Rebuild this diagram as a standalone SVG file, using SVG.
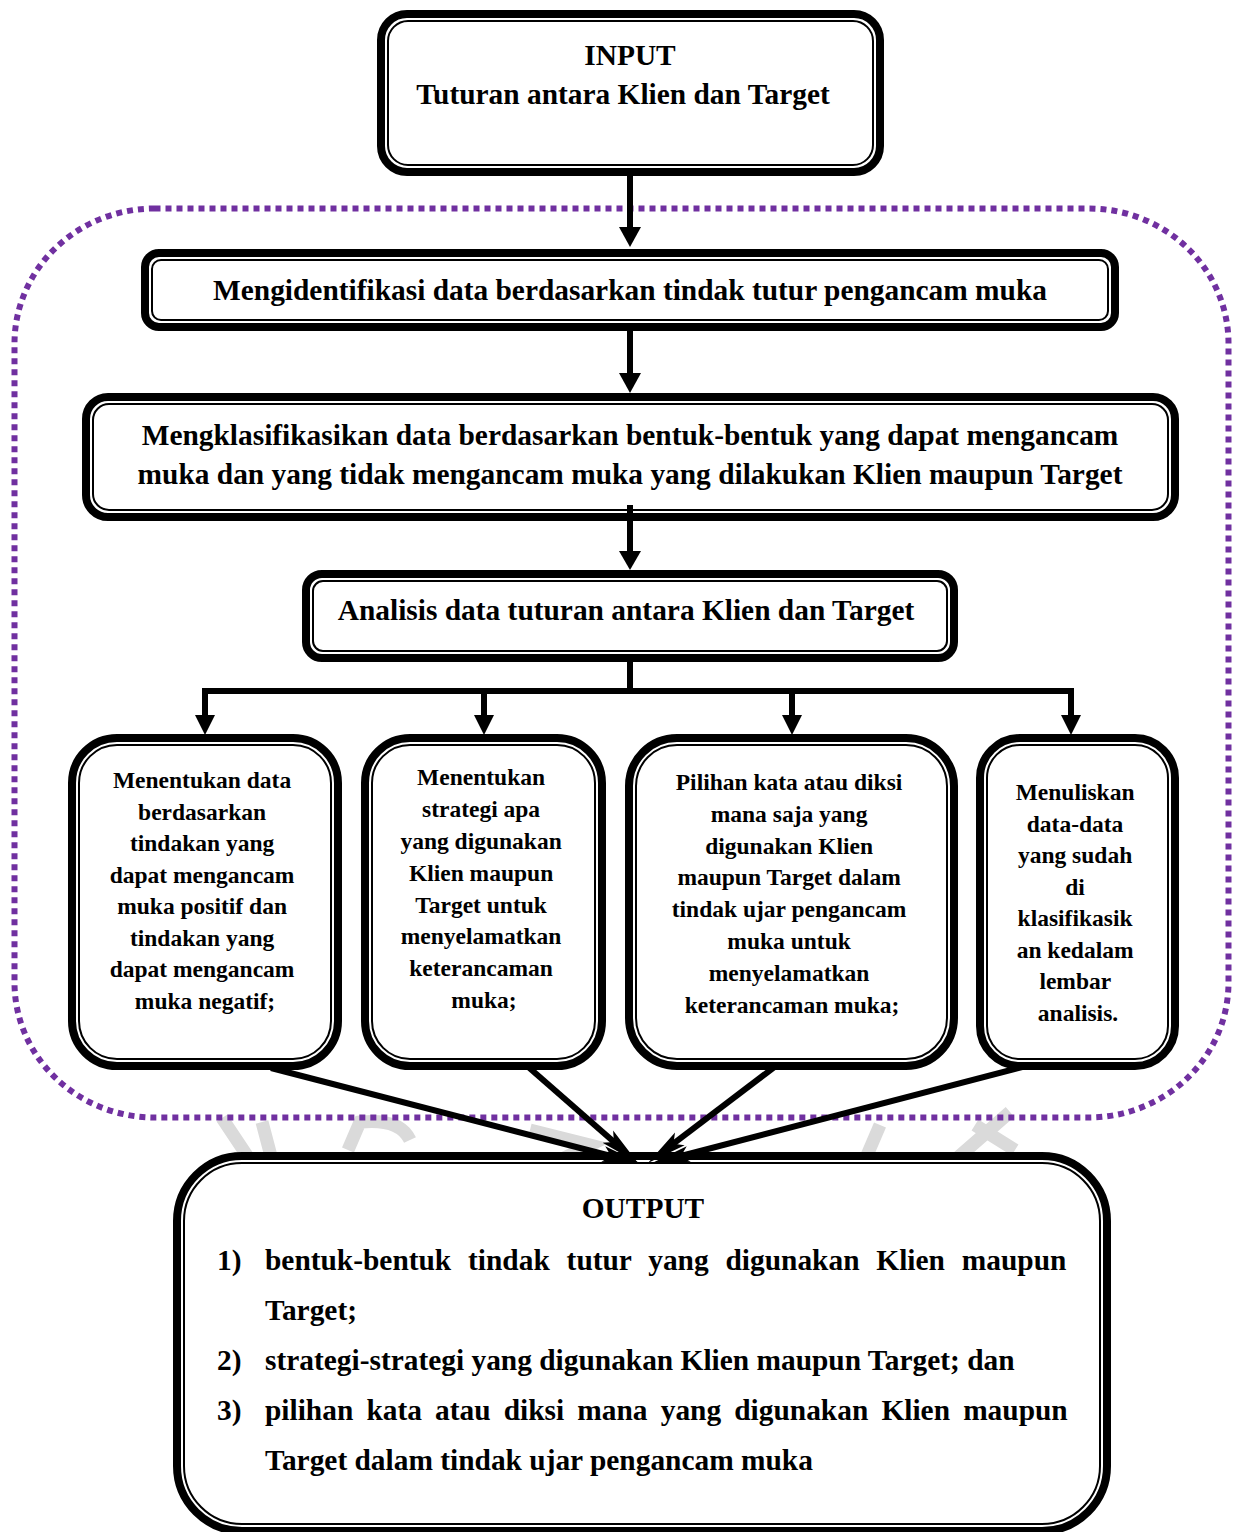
<svg xmlns="http://www.w3.org/2000/svg" width="1234" height="1532" viewBox="0 0 1234 1532">
<defs>
<style>
.outer{fill:#fff;stroke:#000;stroke-width:8}
.inner{fill:none;stroke:#000;stroke-width:2}
.t{font-family:"Liberation Serif","Times New Roman",serif;font-weight:bold;fill:#000}
.big{font-size:29.4px}
.sm{font-size:23.5px}
.ln{stroke:#000;stroke-width:6;fill:none}
.hd{fill:#000}
.wm{stroke:#dadada;stroke-width:13;fill:none;stroke-linecap:butt}
</style>
<marker id="ah" markerUnits="userSpaceOnUse" markerWidth="40" markerHeight="20" viewBox="0 0 40 20" refX="20" refY="10" orient="auto">
<path d="M40,10 L0,2 L8,10 L0,18 Z" fill="#000"/>
</marker>
</defs>
<rect width="1234" height="1532" fill="#fff"/>
<g id="watermark">
<path class="wm" d="M222,1118 L250,1160 M262,1122 L272,1160"/>
<path class="wm" d="M348,1150 L360,1122 Q400,1118 410,1140"/>
<path class="wm" d="M530,1130 L590,1145 L560,1160"/>
<path class="wm" d="M880,1125 L865,1160"/>
<path class="wm" d="M1010,1112 L955,1160 M975,1125 L1015,1150"/>
</g>
<g id="group-border">
<rect x="14.5" y="208.5" width="1214" height="909" rx="140" ry="135" fill="none" stroke="#7030A0" stroke-width="6" stroke-dasharray="6 5"/>
</g>
<g id="node-input">
<rect class="outer" x="381" y="14" width="499" height="158" rx="26"/>
<rect class="inner" x="388" y="21" width="485" height="144" rx="20"/>
<text class="t big" x="630" y="65" text-anchor="middle">INPUT</text>
<text class="t big" x="623" y="104" text-anchor="middle">Tuturan antara Klien dan Target</text>
</g>
<g id="node-identify">
<rect class="outer" x="145" y="253" width="970" height="74" rx="14"/>
<rect class="inner" x="152" y="260" width="956" height="60" rx="9"/>
<text class="t big" x="630" y="300" text-anchor="middle">Mengidentifikasi data berdasarkan tindak tutur pengancam muka</text>
</g>
<g id="node-classify">
<rect class="outer" x="86" y="397" width="1089" height="120" rx="22"/>
<rect class="inner" x="93" y="404" width="1075" height="106" rx="16"/>
<text class="t big" x="630" y="445" text-anchor="middle">Mengklasifikasikan data berdasarkan bentuk-bentuk yang dapat mengancam</text>
<text class="t big" x="630" y="484" text-anchor="middle">muka dan yang tidak mengancam muka yang dilakukan Klien maupun Target</text>
</g>
<g id="node-analyze">
<rect class="outer" x="306" y="574" width="648" height="84" rx="16"/>
<rect class="inner" x="313" y="581" width="634" height="70" rx="10"/>
<text class="t big" x="626" y="620" text-anchor="middle">Analisis data tuturan antara Klien dan Target</text>
</g>
<g id="node-a">
<rect class="outer" x="72" y="738" width="266" height="328" rx="45"/>
<rect class="inner" x="79" y="745" width="252" height="314" rx="38"/>
<text class="t sm" text-anchor="middle">
<tspan x="205" y="788">Menentukan data</tspan>
<tspan x="205" y="819.5">berdasarkan</tspan>
<tspan x="205" y="851">tindakan yang</tspan>
<tspan x="205" y="882.5">dapat mengancam</tspan>
<tspan x="205" y="914">muka positif dan</tspan>
<tspan x="205" y="945.5">tindakan yang</tspan>
<tspan x="205" y="977">dapat mengancam</tspan>
<tspan x="205" y="1008.5">muka negatif;</tspan>
</text>
</g>
<g id="node-b">
<rect class="outer" x="365" y="738" width="237" height="328" rx="45"/>
<rect class="inner" x="372" y="745" width="223" height="314" rx="38"/>
<text class="t sm" text-anchor="middle">
<tspan x="484" y="785">Menentukan</tspan>
<tspan x="484" y="817">strategi apa</tspan>
<tspan x="484" y="849">yang digunakan</tspan>
<tspan x="484" y="881">Klien maupun</tspan>
<tspan x="484" y="913">Target untuk</tspan>
<tspan x="484" y="944">menyelamatkan</tspan>
<tspan x="484" y="976">keterancaman</tspan>
<tspan x="484" y="1008">muka;</tspan>
</text>
</g>
<g id="node-c">
<rect class="outer" x="629" y="738" width="325" height="328" rx="48"/>
<rect class="inner" x="636" y="745" width="311" height="314" rx="41"/>
<text class="t sm" text-anchor="middle">
<tspan x="792" y="790">Pilihan kata atau diksi</tspan>
<tspan x="792" y="822">mana saja yang</tspan>
<tspan x="792" y="854">digunakan Klien</tspan>
<tspan x="792" y="885">maupun Target dalam</tspan>
<tspan x="792" y="917">tindak ujar pengancam</tspan>
<tspan x="792" y="949">muka untuk</tspan>
<tspan x="792" y="981">menyelamatkan</tspan>
<tspan x="792" y="1013">keterancaman muka;</tspan>
</text>
</g>
<g id="node-d">
<rect class="outer" x="980" y="738" width="195" height="328" rx="40"/>
<rect class="inner" x="987" y="745" width="181" height="314" rx="33"/>
<text class="t sm" text-anchor="middle">
<tspan x="1078" y="800">Menuliskan</tspan>
<tspan x="1078" y="831.5">data-data</tspan>
<tspan x="1078" y="863">yang sudah</tspan>
<tspan x="1078" y="894.5">di</tspan>
<tspan x="1078" y="926">klasifikasik</tspan>
<tspan x="1078" y="957.5">an kedalam</tspan>
<tspan x="1078" y="989">lembar</tspan>
<tspan x="1078" y="1020.5">analisis.</tspan>
</text>
</g>
<g id="node-output">
<rect class="outer" x="177" y="1156" width="930" height="375" rx="65"/>
<rect class="inner" x="184" y="1163" width="916" height="361" rx="58"/>
<text class="t big" x="643" y="1218" text-anchor="middle">OUTPUT</text>
<text class="t big" x="217" y="1270">1)</text>
<text class="t big" x="265" y="1270" word-spacing="9.5">bentuk-bentuk tindak tutur yang digunakan Klien maupun</text>
<text class="t big" x="265" y="1320">Target;</text>
<text class="t big" x="217" y="1370">2)</text>
<text class="t big" x="265" y="1370">strategi-strategi yang digunakan Klien maupun Target; dan</text>
<text class="t big" x="217" y="1420">3)</text>
<text class="t big" x="265" y="1420" word-spacing="5.8">pilihan kata atau diksi mana yang digunakan Klien maupun</text>
<text class="t big" x="265" y="1470">Target dalam tindak ujar pengancam muka</text>
</g>
<g id="connectors">
<path class="ln" d="M630,176 V229"/>
<polygon class="hd" points="619,227 641,227 630,247"/>
<path class="ln" d="M630,331 V375"/>
<polygon class="hd" points="619,373 641,373 630,393"/>
<path class="ln" d="M630,505 V553"/>
<polygon class="hd" points="619,551 641,551 630,570"/>
<path class="ln" d="M630,662 V691 M202,691 H1074"/>
<path class="ln" d="M205,691 V717 M484,691 V717 M792,691 V717 M1071,691 V717"/>
<polygon class="hd" points="195,715 215,715 205,735"/>
<polygon class="hd" points="474,715 494,715 484,735"/>
<polygon class="hd" points="782,715 802,715 792,735"/>
<polygon class="hd" points="1061,715 1081,715 1071,735"/>
<line class="ln" x1="271" y1="1068" x2="622.6" y2="1159" marker-end="url(#ah)"/>
<line class="ln" x1="526" y1="1065" x2="622.9" y2="1149.8" marker-end="url(#ah)"/>
<line class="ln" x1="777" y1="1065" x2="663.9" y2="1150.9" marker-end="url(#ah)"/>
<line class="ln" x1="1026" y1="1066" x2="669.4" y2="1159" marker-end="url(#ah)"/>
</g>
</svg>
